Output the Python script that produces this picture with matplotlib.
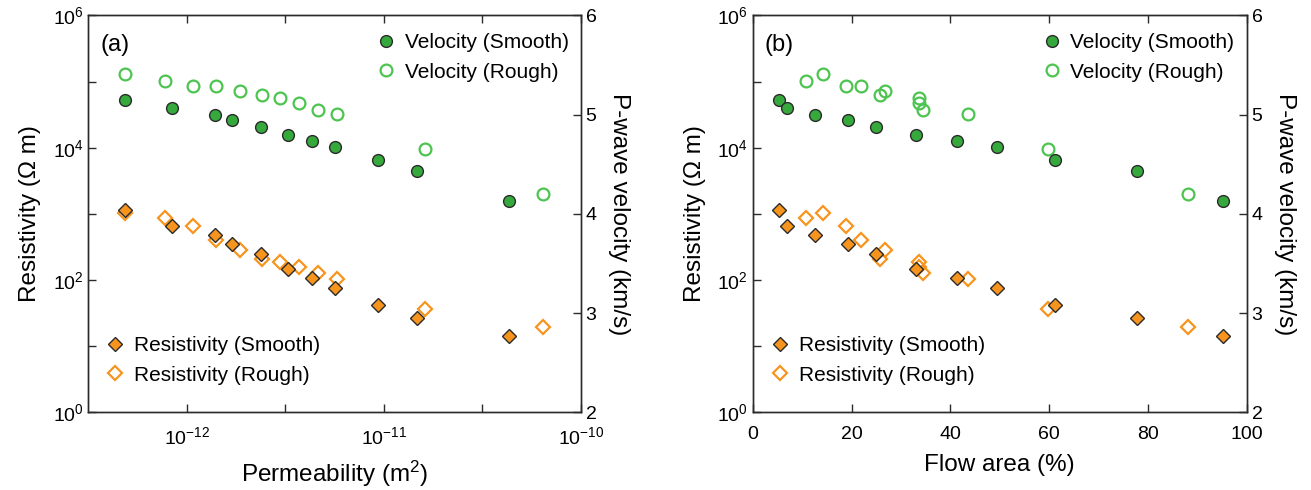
import numpy as np
import matplotlib
matplotlib.use("Agg")
import matplotlib.pyplot as plt
from matplotlib.ticker import FixedLocator, FuncFormatter, NullLocator
from matplotlib.lines import Line2D

plt.rcParams['font.family'] = ['Liberation Sans', 'DejaVu Sans']
plt.rcParams['mathtext.fontset'] = 'custom'
plt.rcParams['mathtext.rm'] = 'Liberation Sans'
plt.rcParams['mathtext.it'] = 'Liberation Sans:italic'
plt.rcParams['mathtext.bf'] = 'Liberation Sans:bold'

# ------------------------------------------------------------
# Datos: muestras lisas (smooth)
# ------------------------------------------------------------
perm_smooth = [4.88e-13, 8.41e-13, 1.39e-12, 1.69e-12, 2.37e-12, 3.26e-12,
               4.30e-12, 5.68e-12, 9.33e-12, 1.47e-11, 4.32e-11]
flow_smooth = [5.4, 7.0, 12.6, 19.2, 24.9, 33.0, 41.4, 49.5, 61.2, 77.7, 95.2]
vp_smooth = [5.15, 5.07, 5.00, 4.95, 4.88, 4.80, 4.74, 4.67, 4.54, 4.43, 4.13]
res_smooth = [1148, 658, 481, 348, 248, 148, 106, 75.2, 42.1, 27.0, 14.5]

# Datos: muestras rugosas (rough)
perm_rough = [4.85e-13, 7.73e-13, 1.07e-12, 1.40e-12, 1.87e-12, 2.40e-12,
              2.98e-12, 3.73e-12, 4.62e-12, 5.78e-12, 1.61e-11, 6.40e-11]
flow_rough = [14.2, 10.7, 18.8, 21.9, 26.7, 25.7, 33.6, 33.7, 34.5, 43.6, 59.8, 88.1]
vp_rough = [5.41, 5.34, 5.29, 5.29, 5.24, 5.20, 5.17, 5.12, 5.05, 5.01, 4.65, 4.20]
res_rough = [1047, 871, 658, 407, 282, 209, 186, 158, 129, 105, 37.0, 19.8]

# Colores
verde = '#35a93c'
verde_claro = '#4cc44f'
naranja = '#f7941d'
borde = '#2b2b2b'

fs_tick = 14
fs_label = 17.5
fs_leg = 15

ms_circ = 8.5
ms_diam = 7.5


def exp_label(v, pos, pares=False):
    e = np.log10(v)
    if abs(e - round(e)) > 1e-6:
        return ''
    e = int(round(e))
    if pares and e % 2 != 0:
        return ''
    return r'$10^{%d}$' % e


def panel(ax, x_s, x_r, letra):
    ax2 = ax.twinx()

    # Resistividad (eje izquierdo, log)
    ax.plot(x_s, res_smooth, 'D', ms=ms_diam, mfc=naranja, mec=borde, mew=1.0,
            linestyle='none', zorder=3)
    ax.plot(x_r, res_rough, 'D', ms=ms_diam, mfc='none', mec=naranja, mew=1.6,
            linestyle='none', zorder=2)

    # Velocidad (eje derecho)
    ax2.plot(x_s, vp_smooth, 'o', ms=ms_circ, mfc=verde, mec=borde, mew=1.0,
             linestyle='none', zorder=3)
    ax2.plot(x_r, vp_rough, 'o', ms=ms_circ, mfc='none', mec=verde_claro, mew=1.6,
             linestyle='none', zorder=2)

    ax.set_yscale('log')
    ax.set_ylim(1, 1e6)
    ax.yaxis.set_major_locator(FixedLocator([10.0 ** i for i in range(7)]))
    ax.yaxis.set_major_formatter(FuncFormatter(lambda v, p: exp_label(v, p, True)))
    ax.yaxis.set_minor_locator(NullLocator())
    ax.set_ylabel('Resistivity (Ω m)', fontsize=fs_label, labelpad=8)

    ax2.set_ylim(2, 6)
    ax2.set_yticks([2, 3, 4, 5, 6])
    ax2.set_ylabel('P-wave velocity (km/s)', fontsize=fs_label, rotation=270,
                   labelpad=24)

    for a in (ax, ax2):
        a.tick_params(direction='in', length=6, width=1, colors=borde,
                      labelcolor='black', labelsize=fs_tick, top=True)
        for s in a.spines.values():
            s.set_color(borde)
            s.set_linewidth(1.0)
    ax.tick_params(axis='x', pad=10)

    ax.text(0.024, 0.925, letra, transform=ax.transAxes, fontsize=17,
            va='center', ha='left')

    h_vel = [Line2D([], [], marker='o', ls='none', ms=ms_circ, mfc=verde, mec=borde, mew=1.0),
             Line2D([], [], marker='o', ls='none', ms=ms_circ, mfc='none', mec=verde_claro, mew=1.6)]
    ley1 = ax2.legend(h_vel, ['Velocity (Smooth)', 'Velocity (Rough)'],
                      loc='upper right', bbox_to_anchor=(0.992, 0.976),
                      frameon=False, fontsize=fs_leg, handletextpad=0.3,
                      handlelength=1.2, labelspacing=0.5, borderaxespad=0)
    h_res = [Line2D([], [], marker='D', ls='none', ms=ms_diam, mfc=naranja, mec=borde, mew=1.0),
             Line2D([], [], marker='D', ls='none', ms=ms_diam, mfc='none', mec=naranja, mew=1.6)]
    ax2.legend(h_res, ['Resistivity (Smooth)', 'Resistivity (Rough)'],
               loc='lower left', bbox_to_anchor=(0.0126, 0.049), frameon=False,
               fontsize=fs_leg, handletextpad=0.3, handlelength=1.2,
               labelspacing=0.5, borderaxespad=0)
    ax2.add_artist(ley1)
    return ax2


fig = plt.figure(figsize=(13.11, 4.90), dpi=100)

# Panel (a): permeabilidad
ax_a = fig.add_axes([0.0674, 0.1584, 0.3756, 0.8100])
panel(ax_a, perm_smooth, perm_rough, '(a)')
ax_a.set_xscale('log')
ax_a.set_xlim(10 ** -12.5, 1e-10)
ax_a.xaxis.set_major_locator(FixedLocator([10 ** e for e in (-12, -11.5, -11, -10.5, -10)]))
ax_a.xaxis.set_major_formatter(FuncFormatter(exp_label))
ax_a.xaxis.set_minor_locator(NullLocator())
ax_a.set_xlabel('Permeability (m$^2$)', fontsize=fs_label, labelpad=8)

# Panel (b): área de flujo
ax_b = fig.add_axes([0.5742, 0.1584, 0.3768, 0.8100])
panel(ax_b, flow_smooth, flow_rough, '(b)')
ax_b.set_xlim(0, 100)
ax_b.set_xticks([0, 20, 40, 60, 80, 100])
ax_b.set_xlabel('Flow area (%)', fontsize=fs_label, labelpad=8)

fig.savefig('out.png', dpi=100)
